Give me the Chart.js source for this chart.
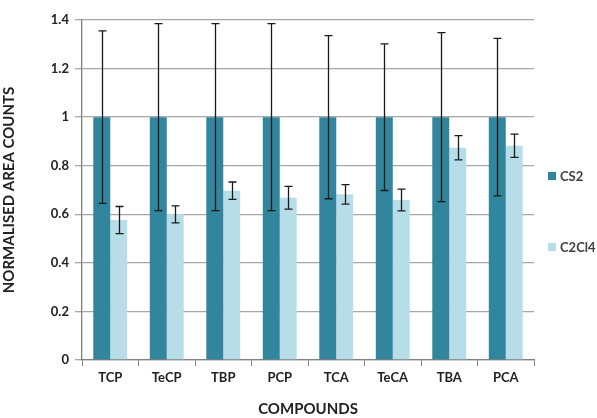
<!DOCTYPE html>
<html>
<head>
<meta charset="utf-8">
<script src="https://cdn.jsdelivr.net/npm/chart.js@4"></script>
<style>
  html, body { margin: 0; padding: 0; background: #fff; }
  #wrap { width: 597px; height: 418px; }
</style>
</head>
<body>
<div id="wrap"><canvas id="barChart"></canvas></div>
<script>
// valeurs
const compounds = ['TCP', 'TeCP', 'TBP', 'PCP', 'TCA', 'TeCA', 'TBA', 'PCA'];
const cs2Values = [1, 1, 1, 1, 1, 1, 1, 1];
const cs2Errors = [0.355, 0.385, 0.385, 0.385, 0.336, 0.302, 0.348, 0.324];
const c2cl4Values = [0.576, 0.600, 0.697, 0.668, 0.682, 0.659, 0.874, 0.882];
const c2cl4Errors = [0.056, 0.035, 0.036, 0.047, 0.040, 0.045, 0.050, 0.048];
const yTicks = [0, 0.2, 0.4, 0.6, 0.8, 1, 1.2, 1.4];

const darkTeal = '#31859C';
const lightTeal = '#B7DEE8';
const textColor = '#404040';

// barres d'erreur dessinées avec l'échelle y
const errorBars = {
  id: 'errorBars',
  afterDatasetsDraw(chart) {
    const ctx = chart.ctx;
    const y = chart.scales.y;
    ctx.save();
    ctx.strokeStyle = '#1a1a1a';
    ctx.lineWidth = 1.3;
    chart.data.datasets.forEach((ds, i) => {
      const meta = chart.getDatasetMeta(i);
      meta.data.forEach((bar, j) => {
        const v = ds.data[j];
        const e = ds.errors[j];
        const top = y.getPixelForValue(v + e);
        const bottom = y.getPixelForValue(v - e);
        const x = Math.round(bar.x) + 0.5;
        ctx.beginPath();
        ctx.moveTo(x, top);
        ctx.lineTo(x, bottom);
        ctx.moveTo(x - 4, top);
        ctx.lineTo(x + 4, top);
        ctx.moveTo(x - 4, bottom);
        ctx.lineTo(x + 4, bottom);
        ctx.stroke();
      });
    });
    ctx.restore();
  }
};

// légende à droite, comme dans Excel
const sideLegend = {
  id: 'sideLegend',
  afterDraw(chart) {
    const ctx = chart.ctx;
    const items = [
      { label: 'CS2', color: darkTeal, y: 176 },
      { label: 'C2Cl4', color: lightTeal, y: 247 }
    ];
    ctx.save();
    ctx.font = 'bold 13px Lato';
    ctx.textBaseline = 'middle';
    items.forEach(it => {
      ctx.fillStyle = it.color;
      ctx.fillRect(548, it.y - 4, 8, 8);
      ctx.fillStyle = textColor;
      ctx.fillText(it.label, 560, it.y + 1);
    });
    ctx.restore();
  }
};

const ctx = document.getElementById('barChart').getContext('2d');
new Chart(ctx, {
  type: 'bar',
  data: {
    labels: compounds,
    datasets: [
      {
        label: 'CS2',
        data: cs2Values,
        errors: cs2Errors,
        backgroundColor: darkTeal,
        categoryPercentage: 0.6,
        barPercentage: 1.0
      },
      {
        label: 'C2Cl4',
        data: c2cl4Values,
        errors: c2cl4Errors,
        backgroundColor: lightTeal,
        categoryPercentage: 0.6,
        barPercentage: 1.0
      }
    ]
  },
  options: {
    responsive: true,
    maintainAspectRatio: false,
    animation: false,
    layout: { padding: { top: 20, right: 63, left: 0, bottom: 0 } },
    plugins: {
      legend: { display: false },
      tooltip: { enabled: false }
    },
    scales: {
      x: {
        grid: { offset: true, drawOnChartArea: false, tickLength: 6, color: '#808080' },
        border: { color: '#808080', width: 1.3 },
        ticks: { color: '#222', font: { family: 'Lato', size: 13, weight: 'bold' }, padding: 4 },
        title: {
          display: true,
          text: 'COMPOUNDS',
          color: '#222',
          font: { family: 'Lato', size: 15, weight: 'bold' },
          padding: { top: 4, bottom: 0 }
        },
        afterFit(scale) { scale.height = 58; }
      },
      y: {
        min: 0,
        max: 1.4,
        afterBuildTicks(scale) { scale.ticks = yTicks.map(v => ({ value: v })); },
        grid: { color: '#a6a6a6', lineWidth: 1.3, tickLength: 7 },
        border: { color: '#808080', width: 1.3 },
        ticks: {
          color: '#222',
          font: { family: 'Lato', size: 13, weight: 'bold' },
          padding: 6,
          callback: v => String(v)
        },
        title: {
          display: true,
          text: 'NORMALISED AREA COUNTS',
          color: '#222',
          font: { family: 'Lato', size: 15, weight: 'bold' },
          padding: { top: 0, bottom: 8 }
        },
        afterFit(scale) { scale.width = 82; }
      }
    }
  },
  plugins: [errorBars, sideLegend]
});
</script>
</body>
</html>
